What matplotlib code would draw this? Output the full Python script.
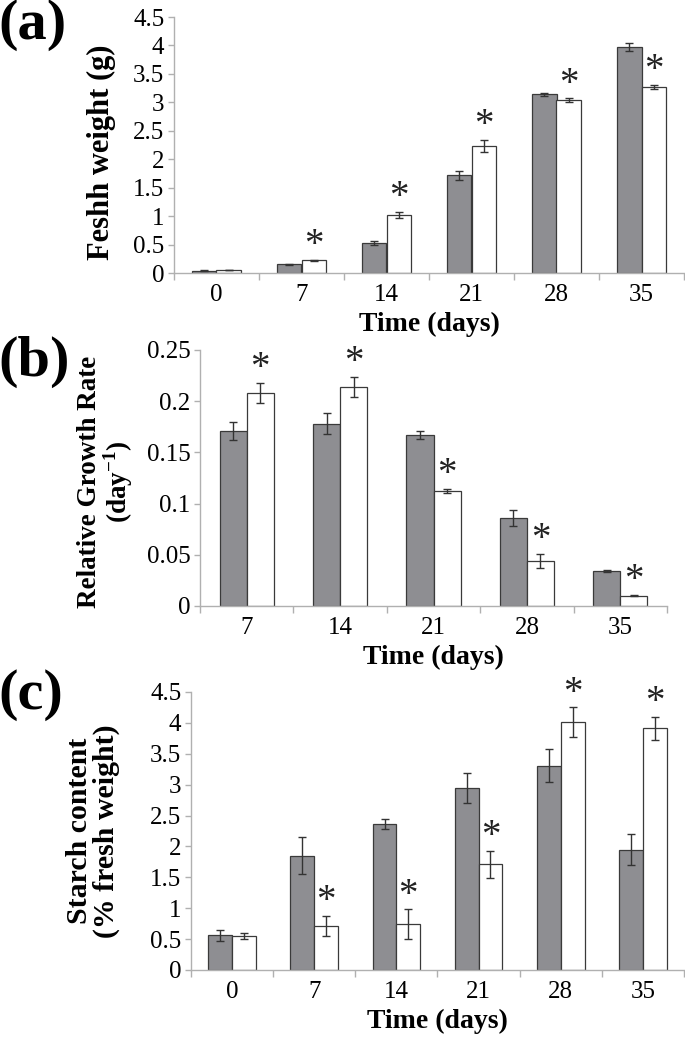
import numpy as np
import matplotlib
matplotlib.use("Agg")
import matplotlib.pyplot as plt
from matplotlib.ticker import FuncFormatter

plt.rcParams['font.family'] = ['Liberation Serif', 'DejaVu Serif']
plt.rcParams['mathtext.fontset'] = 'custom'
plt.rcParams['mathtext.rm'] = 'Liberation Serif'
plt.rcParams['mathtext.bf'] = 'Liberation Serif:bold'

# ---- data ----------------------------------------------------------------
days_a = ['0', '7', '14', '21', '28', '35']
fw_gray = [0.04, 0.15, 0.53, 1.72, 3.14, 3.98]
fw_gray_err = [0.005, 0.005, 0.04, 0.08, 0.03, 0.07]
fw_white = [0.05, 0.22, 1.02, 2.23, 3.04, 3.27]
fw_white_err = [0.005, 0.005, 0.06, 0.11, 0.03, 0.03]
fw_star = [False, True, True, True, True, True]

days_b = ['7', '14', '21', '28', '35']
rgr_gray = [0.171, 0.178, 0.167, 0.086, 0.034]
rgr_gray_err = [0.009, 0.010, 0.004, 0.008, 0.001]
rgr_white = [0.208, 0.214, 0.112, 0.044, 0.010]
rgr_white_err = [0.010, 0.010, 0.002, 0.007, 0.0006]
rgr_star = [True, True, True, True, True]

days_c = ['0', '7', '14', '21', '28', '35']
st_gray = [0.56, 1.85, 2.36, 2.95, 3.31, 1.95]
st_gray_err = [0.09, 0.30, 0.08, 0.24, 0.27, 0.25]
st_white = [0.55, 0.71, 0.74, 1.71, 4.01, 3.91]
st_white_err = [0.05, 0.16, 0.24, 0.22, 0.24, 0.19]
st_star = [False, True, True, True, True, True]

W, H = 685, 1037
fig = plt.figure(figsize=(W / 100, H / 100), dpi=100)

def px_axes(left, right, top, bottom):
    return fig.add_axes([left / W, 1 - bottom / H, (right - left) / W, (bottom - top) / H])

def gfmt(v, pos):
    return '%g' % round(v, 3)

def panel(ax, cats, g, ge, w, we, star, ymax, ystep, star_off):
    x = np.arange(len(cats))
    bw = 0.29
    ax.bar(x - bw / 2, g, bw, color='#8e8e92', edgecolor='#3a3a3a', linewidth=0.9, zorder=2)
    ax.bar(x + bw / 2, w, bw, color='white', edgecolor='#3a3a3a', linewidth=0.9, zorder=2)
    ax.errorbar(x - bw / 2, g, yerr=ge, fmt='none', ecolor='#333333', elinewidth=1,
                capsize=3, capthick=1, zorder=3)
    ax.errorbar(x + bw / 2, w, yerr=we, fmt='none', ecolor='#333333', elinewidth=1,
                capsize=3, capthick=1, zorder=3)
    for i in range(len(cats)):
        if star[i]:
            ax.annotate('*', (x[i] + bw / 2, w[i] + we[i]), xytext=(0, star_off),
                        textcoords='offset points', ha='center', va='bottom',
                        fontsize=28, color='#222222')
    ax.set_xlim(-0.5, len(cats) - 0.5)
    ax.set_ylim(0, ymax)
    ax.set_yticks(np.arange(0, ymax + ystep / 2, ystep))
    ax.yaxis.set_major_formatter(FuncFormatter(gfmt))
    ax.set_xticks(x)
    ax.set_xticklabels(cats)
    ax.set_xticks(np.arange(-0.5, len(cats)), minor=True)
    ax.tick_params(axis='x', which='major', length=0, pad=8, labelsize=18)
    ax.tick_params(axis='x', which='minor', length=5, color='#b0b0b0', width=1)
    ax.tick_params(axis='y', length=4, color='#b0b0b0', width=1, pad=3, labelsize=18)
    for s in ['top', 'right']:
        ax.spines[s].set_visible(False)
    for s in ['left', 'bottom']:
        ax.spines[s].set_color('#b0b0b0')
        ax.spines[s].set_linewidth(1)
    ax.set_xlabel('Time (days)', fontsize=20, fontweight='bold', labelpad=4)

ax_a = px_axes(174, 684, 17, 273)
panel(ax_a, days_a, fw_gray, fw_gray_err, fw_white, fw_white_err, fw_star, 4.5, 0.5, -3)

ax_b = px_axes(200, 667, 350, 606)
panel(ax_b, days_b, rgr_gray, rgr_gray_err, rgr_white, rgr_white_err, rgr_star, 0.25, 0.05, -3)

ax_c = px_axes(191, 684, 692, 970)
panel(ax_c, days_c, st_gray, st_gray_err, st_white, st_white_err, st_star, 4.5, 0.5, -3)

def ftext(x, y, s, **kw):
    fig.text(x / W, 1 - y / H, s, **kw)

# y labels
ftext(101, 152, 'Feshh weight (g)', rotation=90, ha='center', va='center',
      fontsize=22, fontweight='bold')
ftext(106, 482, 'Relative Growth Rate\n(day$^{\\mathbf{-1}}$)', rotation=90, ha='center',
      va='center', fontsize=19.5, fontweight='bold', multialignment='center', linespacing=0.95)
ftext(93, 831, 'Starch content\n(% fresh weight)', rotation=90, ha='center', va='center',
      fontsize=21.5, fontweight='bold', multialignment='center', linespacing=0.95)

# panel letters
ftext(-2, 25, '(a)', ha='left', va='center', fontsize=42, fontweight='bold')
ftext(-2, 362, '(b)', ha='left', va='center', fontsize=42, fontweight='bold')
ftext(-2, 695, '(c)', ha='left', va='center', fontsize=42, fontweight='bold')

fig.savefig('out.png', dpi=100)
